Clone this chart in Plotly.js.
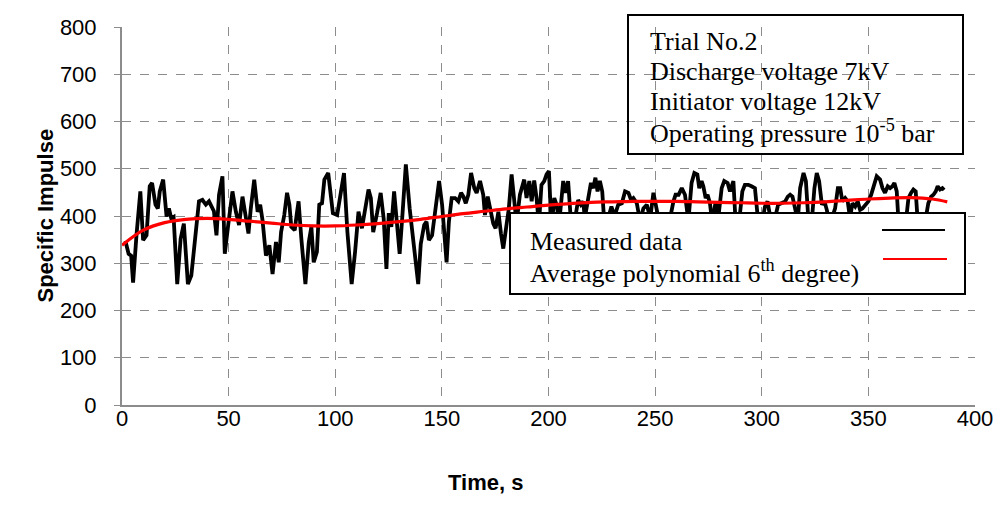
<!DOCTYPE html>
<html>
<head>
<meta charset="utf-8">
<script src="https://cdn.plot.ly/plotly-3.0.1.min.js"></script>
<style>html,body{margin:0;padding:0;background:#fff;}#chart{width:996px;height:507px;}</style>
</head>
<body>
<div id="chart"></div>
<script>
// Measured data (time in s, specific impulse)
const measuredTime = [1.6,3.1,4.3,5.2,6.8,8.6,9.9,11.5,13.0,14.1,15.7,16.8,17.7,19.3,20.9,22.0,23.1,24.2,25.9,27.5,29.0,30.9,32.5,34.1,36.1,37.7,39.3,40.8,42.0,43.1,44.3,45.5,47.1,48.2,49.8,51.8,53.4,54.9,56.5,58.1,59.3,60.4,62.0,63.6,64.8,65.9,67.5,69.1,70.6,72.2,73.5,74.6,76.1,77.4,78.5,79.4,81.0,82.0,82.8,84.1,86.0,87.6,88.8,89.9,91.4,92.5,93.8,94.9,96.7,97.7,98.9,100.9,102.5,104.1,105.7,107.7,109.3,110.9,112.5,114.0,115.6,116.7,117.8,119.6,121.3,122.7,124.0,125.1,126.3,127.6,128.7,130.2,131.5,133.1,134.9,136.5,138.9,140.1,141.7,142.8,143.9,145.4,147.0,148.7,150.1,152.2,153.3,154.6,156.2,157.7,159.0,160.1,161.2,162.4,163.7,165.2,166.3,167.9,169.4,170.2,171.5,173.0,174.1,175.2,176.5,177.7,178.8,180.4,181.4,182.7,184.0,185.0,186.6,187.5,188.6,189.7,191.0,192.1,193.3,194.4,195.5,196.7,198.0,199.1,200.2,201.4,202.7,203.8,205.0,206.9,208.0,209.2,210.5,212.5,213.9,215.2,216.3,217.0,218.6,219.9,221.0,222.0,223.0,224.1,225.2,226.1,228.0,229.5,231.0,232.7,234.4,235.9,237.5,238.7,239.8,241.4,242.9,244.5,246.1,247.7,249.2,250.8,252.0,254.0,256.0,257.0,258.6,259.6,261.0,262.5,264.0,265.6,267.1,268.4,269.8,270.7,271.8,272.6,273.7,274.6,275.7,276.8,278.4,279.6,281.2,282.4,284.0,285.1,286.7,287.7,289.3,290.9,292.1,293.7,295.2,296.8,298.4,300.0,301.5,302.7,304.3,306.2,307.7,309.3,311.0,312.2,313.3,314.4,315.7,316.9,318.0,319.6,320.7,321.9,323.4,324.7,325.8,326.9,328.2,329.4,330.5,331.6,332.9,334.4,335.7,336.8,337.8,339.1,340.3,341.4,342.5,343.8,345.0,346.1,347.2,348.5,350.0,351.3,352.4,353.9,355.5,356.6,357.8,359.1,360.2,361.3,362.2,363.3,364.1,365.7,367.5,368.8,370.0,371.1,372.2,373.1,375.0,376.9,378.1,379.4,380.5,381.6,382.5,383.6,384.7,385.5];
const measuredIsp = [347,320,316,259,360,452,349,359,463,470,424,416,452,477,399,416,395,398,256,352,384,256,274,338,431,434,424,431,422,410,359,445,484,320,381,452,409,381,441,402,363,416,477,409,424,391,316,338,277,345,302,366,402,449,424,377,370,406,431,352,256,345,377,302,324,424,427,477,491,452,406,402,445,491,366,256,324,409,374,416,456,438,366,406,449,395,288,406,377,452,395,320,402,509,416,352,256,341,381,388,349,359,413,474,424,302,388,438,438,431,449,441,427,445,491,459,449,474,445,402,441,406,384,374,409,363,331,384,416,488,434,385,445,460,477,438,474,431,475,438,380,466,474,488,495,375,438,424,385,474,449,474,390,395,434,424,431,395,431,470,459,481,452,474,452,390,395,420,400,424,427,452,449,434,438,427,390,416,424,395,449,409,385,380,390,395,431,445,445,459,445,390,470,491,488,459,474,463,438,445,427,385,431,395,459,474,470,452,474,390,385,452,466,466,463,459,385,380,420,431,390,395,424,427,431,441,445,441,413,390,459,491,474,390,385,459,491,474,424,431,413,390,395,416,459,459,431,438,431,395,427,420,431,413,416,424,431,445,459,484,477,459,449,463,459,463,470,452,390,380,385,438,449,456,452,390,385,395,427,441,445,452,463,456,459,455];

// Average polynomial (6th degree) trend
const fitTime = [0,10,20,30,40,50,60,70,80,90,100,110,120,130,140,150,160,170,180,190,200,210,220,230,240,250,260,270,280,290,300,310,320,330,340,350,360,370,380,387];
const fitIsp = [338,370,386,393,395,393,389,385,381,379,379,381,384,388,393,399,405,410,415,419,423,426,429,430,431,431,431,430,429,428,427,427,428,430,433,436,438,439,436,430];

const xTicks = [0,50,100,150,200,250,300,350,400];
const yTicks = [0,100,200,300,400,500,600,700,800];

const infoLines = ['Trial No.2','Discharge voltage 7kV','Initiator voltage 12kV','Operating pressure 10<sup>-5</sup> bar'];
const legendLabels = ['Measured data','Average polynomial 6<sup>th</sup> degree)'];

// pixel -> paper helpers (plot area 122..975 x 27..405)
const L=122, R=975, T=27, B=405;
const px = p => (p-L)/(R-L);
const py = p => (B-p)/(B-T);

const serif = {family:'Liberation Serif, Times New Roman, serif', size:26, color:'#000'};
const annotations = [];
const infoY = [41, 71, 101, 131];
infoLines.forEach((t,i)=>annotations.push({xref:'paper',yref:'paper',x:px(648),y:py(infoY[i]),xanchor:'left',yanchor:'middle',text:t,showarrow:false,font:serif}));
const legY = [241, 271];
legendLabels.forEach((t,i)=>annotations.push({xref:'paper',yref:'paper',x:px(528),y:py(legY[i]),xanchor:'left',yanchor:'middle',text:t,showarrow:false,font:serif}));
const boldFont = {family:'Liberation Sans, Arial, sans-serif',size:22,color:'#000'};
annotations.push({xref:'paper',yref:'paper',x:px(30),y:py(216),textangle:-90,text:'<b>Specific Impulse</b>',showarrow:false,font:boldFont});
annotations.push({xref:'paper',yref:'paper',x:px(485),y:py(497),text:'<b>Time, s</b>',showarrow:false,font:boldFont});

const shapes = [
  {type:'rect',xref:'paper',yref:'paper',x0:px(628),x1:px(963),y0:py(15),y1:py(154),line:{color:'#000',width:2},fillcolor:'rgba(0,0,0,0)',layer:'above'},
  {type:'rect',xref:'paper',yref:'paper',x0:px(510),x1:px(965),y0:py(213),y1:py(294),line:{color:'#000',width:2},fillcolor:'#fff',layer:'above'},
  {type:'line',xref:'paper',yref:'paper',x0:px(882),x1:px(945),y0:py(230),y1:py(230),line:{color:'#000',width:2},layer:'above'},
  {type:'line',xref:'paper',yref:'paper',x0:px(883),x1:px(947),y0:py(259),y1:py(259),line:{color:'#ff0000',width:2},layer:'above'}
];

const traces = [
  {x:measuredTime,y:measuredIsp,type:'scatter',mode:'lines',name:'Measured data',line:{color:'#000',width:3.8}},
  {x:fitTime,y:fitIsp,type:'scatter',mode:'lines',name:'Average polynomial 6th degree)',line:{color:'#ff0000',width:3.2,shape:'spline'}}
];

const tickFont = {family:'Liberation Sans, Arial, sans-serif',size:22,color:'#000'};
const layout = {
  width:996,height:507,
  margin:{l:L,r:996-R,t:T,b:507-B,pad:0},
  paper_bgcolor:'#fff',plot_bgcolor:'#fff',
  showlegend:false,
  xaxis:{range:[0,400],tickvals:xTicks,ticktext:xTicks.map(String),showgrid:true,gridcolor:'#8c8c8c',griddash:'dash',gridwidth:1,
         showline:true,linecolor:'#8c8c8c',linewidth:2,ticks:'',ticklen:0,tickfont:tickFont,zeroline:false,ticklabelstandoff:-7},
  yaxis:{range:[0,800],tickvals:yTicks,ticktext:yTicks.map(String),showgrid:true,gridcolor:'#8c8c8c',griddash:'dash',gridwidth:1,
         showline:true,linecolor:'#8c8c8c',linewidth:2,ticks:'outside',ticklen:6,tickcolor:'#8c8c8c',tickfont:tickFont,zeroline:false,ticklabelstandoff:13},
  shapes:shapes,annotations:annotations
};
Plotly.newPlot('chart',traces,layout,{staticPlot:true,displayModeBar:false});
</script>
</body>
</html>
